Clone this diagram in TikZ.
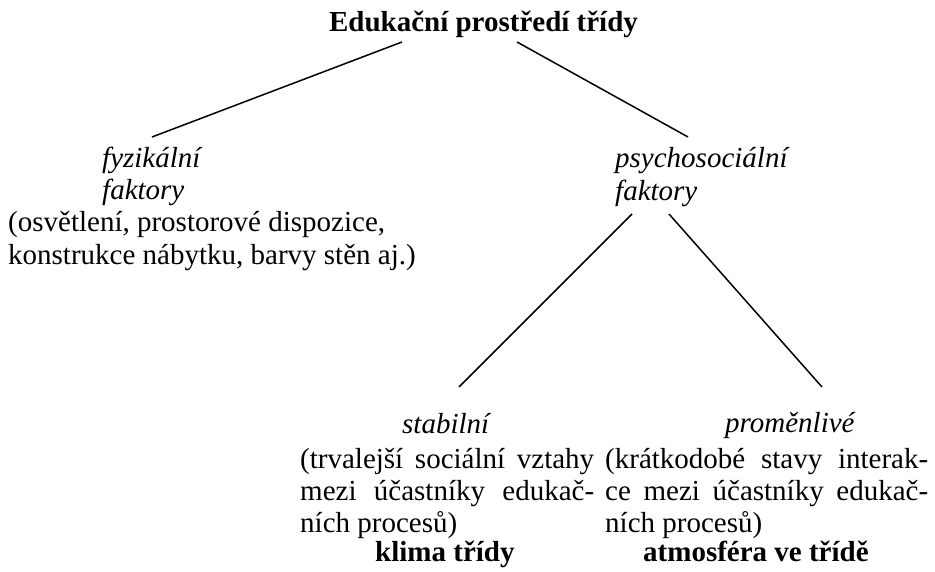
\documentclass[tikz,border=0pt]{standalone}
\usepackage{fontspec}
\setmainfont{Liberation Serif}
\tikzset{
  txt/.style={inner sep=0pt, anchor=base west, font=\fontsize{29}{33}\selectfont},
  ttl/.style={txt, font=\fontsize{29}{33}\selectfont\bfseries},
  itl/.style={txt, font=\fontsize{29}{33}\selectfont\itshape},
  conn/.style={line width=1.5pt},
}
\begin{document}
\begin{tikzpicture}[x=1pt,y=-1pt]
\useasboundingbox (0,0) rectangle (935,572);
% title
\node[ttl, anchor=base] (title) at (483.5,32) {Edukační prostředí třídy};
% left branch
\node[itl] (fyz) at (102,168) {fyzikální};
\node[itl] (fyzf) at (102,200) {faktory};
\node[txt] (fyzd1) at (8,232) {(osvětlení, prostorové dispozice,};
\node[txt] (fyzd2) at (8,265) {konstrukce nábytku, barvy stěn aj.)};
% right branch
\node[itl] (psy) at (615,168) {psychosociální};
\node[itl] (psyf) at (615,201) {faktory};
% lower left
\node[itl] (stab) at (402,433) {stabilní};
\node[txt] (stab1) at (300,468) {\makebox[294pt][s]{(trvalejší sociální vztahy}};
\node[txt] (stab2) at (300,500) {\makebox[294pt][s]{mezi účastníky edukač-}};
\node[txt] (stab3) at (300,532) {ních procesů)};
\node[ttl] (klima) at (375,561) {klima třídy};
% lower right
\node[itl] (prom) at (725,432) {proměnlivé};
\node[txt] (prom1) at (605,468) {\makebox[323pt][s]{(krátkodobé stavy interak-}};
\node[txt] (prom2) at (605,500) {\makebox[323pt][s]{ce mezi účastníky edukač-}};
\node[txt] (prom3) at (605,532) {ních procesů)};
\node[ttl] (atmo) at (643,561) {atmosféra ve třídě};
% connector end points
\coordinate (tl) at (402,42);
\coordinate (tr) at (517,42);
\coordinate (fl) at (152,137);
\coordinate (pr) at (688,137);
\coordinate (pl) at (632,214);
\coordinate (pr2) at (669,214);
\coordinate (sl) at (459,387);
\coordinate (ml) at (822,387);
\draw[conn] (tl) -- (fl);
\draw[conn] (tr) -- (pr);
\draw[conn] (pl) -- (sl);
\draw[conn] (pr2) -- (ml);
\end{tikzpicture}
\end{document}
